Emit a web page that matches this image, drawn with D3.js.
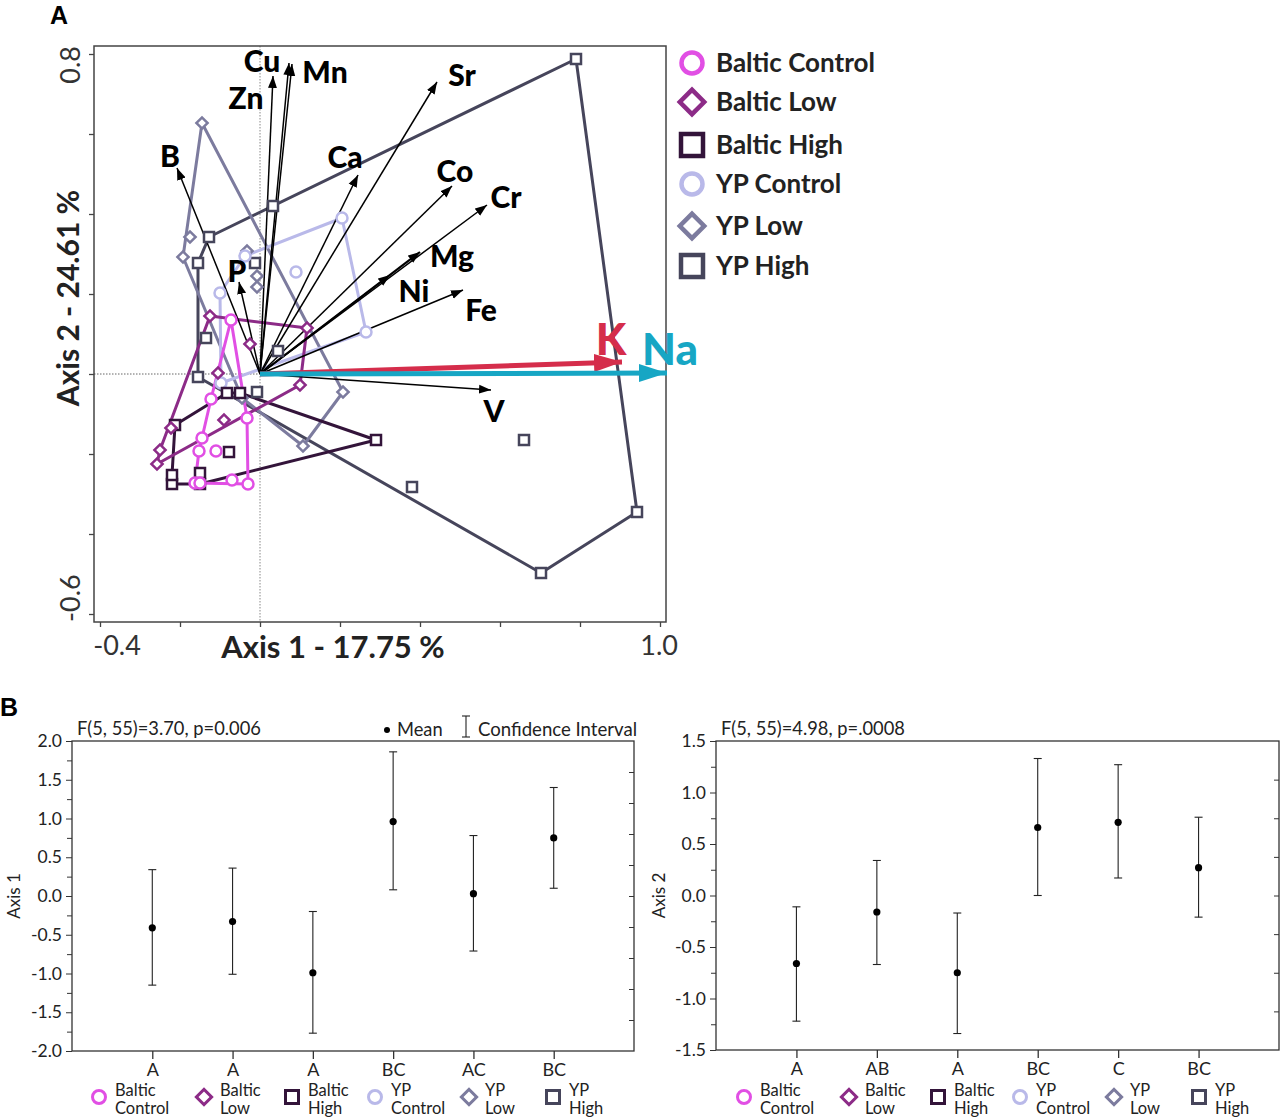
<!DOCTYPE html>
<html><head><meta charset="utf-8">
<script src="https://cdn.jsdelivr.net/npm/d3@7"></script>
<style>
body{margin:0;background:#fff;}
svg{display:block;font-family:"Lato","Open Sans",sans-serif;}
</style></head><body>
<svg id="c" width="1280" height="1118"></svg>
<script>
// ---------------- DATA ----------------
const groups = ["Baltic Control","Baltic Low","Baltic High","YP Control","YP Low","YP High"];
const groupLines = [["Baltic","Control"],["Baltic","Low"],["Baltic","High"],["YP","Control"],["YP","Low"],["YP","High"]];

// PCoA scores (Axis 1, Axis 2)
const balticControlPts = [[-0.0725,0.135],[-0.1225,-0.0625],[-0.0325,-0.11],[-0.145,-0.16],[-0.1525,-0.1925],[-0.11,-0.1925],[-0.1625,-0.2725],[-0.07,-0.265],[-0.03,-0.275],[-0.15,-0.2725]];
const balticLowPts = [[-0.125,0.145],[0.1175,0.115],[0.1,-0.0275],[-0.025,0.075],[-0.105,0.0025],[-0.09,-0.115],[-0.2225,-0.135],[-0.25,-0.19],[-0.2575,-0.225]];
const balticHighPts = [[-0.22,-0.275],[-0.15,-0.275],[-0.15,-0.2475],[-0.22,-0.2525],[-0.2125,-0.1275],[-0.0775,-0.195],[-0.0825,-0.0475],[-0.05,-0.0475],[0.29,-0.165]];
const ypControlPts = [[0.205,0.39],[0.265,0.105],[0.09,0.255],[-0.1,0.2025],[-0.0975,-0.0225],[-0.0375,0.295]];
const ypLowPts = [[-0.145,0.6275],[-0.175,0.3425],[-0.1925,0.2925],[-0.0325,0.3075],[-0.0075,0.245],[-0.0075,0.2175],[-0.045,-0.06],[0.2075,-0.045],[0.1075,-0.18]];
const ypHighPts = [[0.79,0.7875],[0.9425,-0.345],[0.7025,-0.4975],[0.38,-0.2825],[0.66,-0.165],[-0.1275,0.3425],[-0.155,0.2775],[0.0325,0.42],[-0.0125,0.2775],[-0.135,0.09],[-0.155,-0.0075],[-0.0075,-0.045],[0.045,0.0575]];
const groupPts = [balticControlPts,balticLowPts,balticHighPts,ypControlPts,ypLowPts,ypHighPts];

// biplot vectors
const vectorNames = ["B","P","Zn","Cu","Mn","Ca","Sr","Co","Cr","Mg","Ni","Fe","K","Na","V"];
const vectorAxis1 = [-0.2075,-0.0525,0.0325,0.0725,0.08,0.245,0.4425,0.48,0.5675,0.40,0.325,0.5075,0.905,1.0175,0.5775];
const vectorAxis2 = [0.515,0.23,0.745,0.7775,0.775,0.4975,0.73,0.47,0.4225,0.305,0.2475,0.21,0.03,0.0025,-0.04];

const axisATickLabels = {x:["-0.4","1.0"], y:["0.8","-0.6"]};

// Panel B
const letters1 = ["A","A","A","BC","AC","BC"];
const axis1Mean = [-0.41,-0.33,-0.99,0.96,0.03,0.75];
const axis1Lo   = [-1.15,-1.01,-1.77,0.08,-0.71,0.10];
const axis1Hi   = [0.34,0.36,-0.20,1.86,0.78,1.40];
const letters2 = ["A","AB","A","BC","C","BC"];
const axis2Mean = [-0.66,-0.16,-0.75,0.66,0.71,0.27];
const axis2Lo   = [-1.22,-0.67,-1.34,0.00,0.17,-0.21];
const axis2Hi   = [-0.11,0.34,-0.17,1.33,1.27,0.76];
const statText1 = "F(5, 55)=3.70, p=0.006";
const statText2 = "F(5, 55)=4.98, p=.0008";

// ---------------- STYLE / LAYOUT ----------------
const colors = ["#e14fe4","#8c2b87","#33143a","#b9b9e9","#7c7b9e","#46455b"];
const shapes = ["circle","diamond","square","circle","diamond","square"];
const labelOffsets = {B:[-7,-13],P:[-2,-12],Zn:[-27,21],Cu:[-27,-3],Mn:[33,7],Ca:[-13,-19],Sr:[25,-8],Co:[3,-16],Cr:[19,-9],Mg:[32,3],Ni:[24,15],Fe:[18,19],K:[-11,-24],Na:[3,-25],V:[3,20]};
const vecColors = {K:"#d52d4b",Na:"#17a6c4"};
const minus = s => s.replace("\u2212","-");

const svg = d3.select("#c");

function drawShape(g, type, sz, color, sw){
  if(type==="circle"){
    g.append("circle").attr("r",sz/2).attr("fill","#fff").attr("stroke",color).attr("stroke-width",sw);
  } else if(type==="square"){
    g.append("rect").attr("x",-sz/2).attr("y",-sz/2).attr("width",sz).attr("height",sz).attr("fill","#fff").attr("stroke",color).attr("stroke-width",sw);
  } else {
    const s = sz*0.72;
    g.append("rect").attr("x",-s/2).attr("y",-s/2).attr("width",s).attr("height",s).attr("transform","rotate(45)").attr("fill","#fff").attr("stroke",color).attr("stroke-width",sw);
  }
}

// ---------------- PANEL A ----------------
const xA = d3.scaleLinear().domain([-0.4,1.0]).range([100,660]);
const yA = d3.scaleLinear().domain([-0.6,0.8]).range([614,54]);
const boxA = {l:94,r:666,t:46,b:622};

svg.append("text").attr("x",50).attr("y",24).attr("font-size",25).attr("font-weight",700).attr("font-family","Arial, Liberation Sans, sans-serif").text("A");

const gA = svg.append("g");
// zero lines
gA.append("line").attr("x1",xA(0)).attr("x2",xA(0)).attr("y1",boxA.t).attr("y2",boxA.b).attr("stroke","#888").attr("stroke-width",1).attr("stroke-dasharray","1.5,1.5");
gA.append("line").attr("x1",boxA.l).attr("x2",boxA.r).attr("y1",yA(0)).attr("y2",yA(0)).attr("stroke","#666").attr("stroke-width",1).attr("stroke-dasharray","1.5,1.5");

// frame
gA.append("rect").attr("x",boxA.l).attr("y",boxA.t).attr("width",boxA.r-boxA.l).attr("height",boxA.b-boxA.t).attr("fill","none").attr("stroke","#444").attr("stroke-width",1.5);
// axes ticks
const axXA = d3.axisBottom(xA).tickValues(d3.range(-0.4,1.0001,0.2)).tickSize(5).tickFormat("");
gA.append("g").attr("transform",`translate(0,${boxA.b})`).call(axXA).call(g=>{g.select(".domain").remove();g.selectAll("line").attr("stroke","#444").attr("stroke-width",1.3);});
const axYA = d3.axisLeft(yA).tickValues(d3.range(-0.6,0.8001,0.2)).tickSize(5).tickFormat("");
gA.append("g").attr("transform",`translate(${boxA.l},0)`).call(axYA).call(g=>{g.select(".domain").remove();g.selectAll("line").attr("stroke","#444").attr("stroke-width",1.3);});

// tick labels
gA.append("text").attr("x",xA(-0.4)+17).attr("y",655).attr("text-anchor","middle").attr("font-size",27).attr("fill","#333").text(axisATickLabels.x[0]);
gA.append("text").attr("x",678).attr("y",655).attr("text-anchor","end").attr("font-size",27).attr("fill","#333").text(axisATickLabels.x[1]);
gA.append("text").attr("transform",`translate(80,${boxA.t}) rotate(-90)`).attr("text-anchor","end").attr("font-size",27).attr("fill","#333").text(axisATickLabels.y[0]);
gA.append("text").attr("transform",`translate(80,${boxA.b}) rotate(-90)`).attr("text-anchor","start").attr("font-size",27).attr("fill","#333").text(axisATickLabels.y[1]);
// axis titles
gA.append("text").attr("x",333).attr("y",658).attr("text-anchor","middle").attr("font-size",31).attr("font-weight",700).attr("fill","#222").text("Axis 1 - 17.75 %");
gA.append("text").attr("transform",`translate(79,298) rotate(-90)`).attr("text-anchor","middle").attr("font-size",30).attr("font-weight",700).attr("fill","#222").text("Axis 2 - 24.61 %");

// hulls
const hullOrder = [5,4,3,2,1,0];
hullOrder.forEach(i=>{
  const pts = groupPts[i].map(p=>[xA(p[0]),yA(p[1])]);
  const h = d3.polygonHull(pts);
  gA.append("path").attr("d","M"+h.map(p=>p.join(",")).join("L")+"Z")
    .attr("fill","none").attr("stroke",colors[i]).attr("stroke-width",3).attr("stroke-linejoin","round");
});

// arrows
const defs = svg.append("defs");
defs.append("marker").attr("id","ahBlack").attr("markerUnits","userSpaceOnUse").attr("viewBox","0 -5 12 10")
  .attr("refX",12).attr("refY",0).attr("markerWidth",12).attr("markerHeight",10).attr("orient","auto")
  .append("path").attr("d","M0,-4.5L12,0L0,4.5Z").attr("fill","#000");
Object.keys(vecColors).forEach(k=>{
  defs.append("marker").attr("id","ah"+k).attr("markerUnits","userSpaceOnUse").attr("viewBox","0 -10 28 20")
    .attr("refX",28).attr("refY",0).attr("markerWidth",28).attr("markerHeight",20).attr("orient","auto")
    .append("path").attr("d","M0,-9L28,0L0,9Z").attr("fill",vecColors[k]);
});
const idx = vectorNames.map((n,i)=>i);
const thick = idx.filter(i=>vecColors[vectorNames[i]]);
const thin = idx.filter(i=>!vecColors[vectorNames[i]]);
thin.concat(thick).forEach(i=>{
  const n = vectorNames[i];
  const c = vecColors[n];
  gA.append("line").attr("x1",xA(0)).attr("y1",yA(0)).attr("x2",xA(vectorAxis1[i])).attr("y2",yA(vectorAxis2[i]))
    .attr("stroke",c||"#000").attr("stroke-width",c?5:(n==="Mg"?2.2:1.5))
    .attr("marker-end",`url(#ah${c?n:"Black"})`);
});

// points
[5,4,3,2,1,0].forEach(i=>{
  groupPts[i].forEach(p=>{
    const g = gA.append("g").attr("transform",`translate(${xA(p[0])},${yA(p[1])})`);
    drawShape(g, shapes[i], shapes[i]==="circle"?11:(shapes[i]==="square"?10:11), colors[i], 2.5);
  });
});

// vector labels
vectorNames.forEach((n,i)=>{
  const o = labelOffsets[n];
  const c = vecColors[n];
  gA.append("text").attr("x",xA(vectorAxis1[i])+o[0]).attr("y",yA(vectorAxis2[i])+o[1])
    .attr("text-anchor","middle").attr("dominant-baseline","central")
    .attr("font-size",c?44:30).attr("font-weight",900).attr("fill",c||"#000").text(n);
});

// legend A
const legAY = [63,102,145,184,226,266];
groups.forEach((gname,i)=>{
  const g = svg.append("g").attr("transform",`translate(692,${legAY[i]})`);
  drawShape(g, shapes[i], shapes[i]==="circle"?21:(shapes[i]==="square"?22:24), colors[i], 4.5);
  svg.append("text").attr("x",716).attr("y",legAY[i]+9).attr("font-size",26).attr("font-weight",700).attr("fill","#222").text(gname);
});

// ---------------- PANEL B ----------------
svg.append("text").attr("x",0).attr("y",716).attr("font-size",25).attr("font-weight",700).attr("font-family","Arial, Liberation Sans, sans-serif").text("B");

function panelB(opt){
  const g = svg.append("g");
  const x = d3.scaleLinear().domain([0,7]).range([opt.l,opt.r]);
  const y = d3.scaleLinear().domain(opt.domain).range([opt.b,opt.t]);
  g.append("rect").attr("x",opt.l).attr("y",opt.t).attr("width",opt.r-opt.l).attr("height",opt.b-opt.t).attr("fill","none").attr("stroke","#333").attr("stroke-width",1.3);
  // left major
  g.append("g").attr("transform",`translate(${opt.l},0)`)
    .call(d3.axisLeft(y).tickValues(opt.major).tickSize(6).tickFormat(d=>minus(d3.format(".1f")(d))))
    .call(s=>{s.select(".domain").remove();s.selectAll("line").attr("stroke","#333");s.selectAll("text").attr("font-size",17.5).attr("fill","#222").attr("font-family","Lato, sans-serif").attr("dx",-1);});
  g.append("g").attr("transform",`translate(${opt.l},0)`)
    .call(d3.axisLeft(y).tickValues(opt.minor).tickSize(5).tickFormat(""))
    .call(s=>{s.select(".domain").remove();s.selectAll("line").attr("stroke","#333");});
  // right inner ticks
  g.append("g").attr("transform",`translate(${opt.r},0)`)
    .call(d3.axisRight(y).tickValues(opt.right).tickSize(-5).tickFormat(""))
    .call(s=>{s.select(".domain").remove();s.selectAll("line").attr("stroke","#333");});
  // bottom
  g.append("g").attr("transform",`translate(0,${opt.b})`)
    .call(d3.axisBottom(x).tickValues([1,2,3,4,5,6]).tickSize(8).tickPadding(4).tickFormat((d,i)=>opt.letters[i]))
    .call(s=>{s.select(".domain").remove();s.selectAll("line").attr("stroke","#333").attr("stroke-width",1.3);s.selectAll("text").attr("font-size",18).attr("fill","#222").attr("font-family","Lato, sans-serif");});
  // error bars
  opt.mean.forEach((m,i)=>{
    const cx = x(i+1);
    g.append("line").attr("x1",cx).attr("x2",cx).attr("y1",y(opt.lo[i])).attr("y2",y(opt.hi[i])).attr("stroke","#222").attr("stroke-width",1.1);
    [opt.lo[i],opt.hi[i]].forEach(v=>g.append("line").attr("x1",cx-4).attr("x2",cx+4).attr("y1",y(v)).attr("y2",y(v)).attr("stroke","#222").attr("stroke-width",1.1));
    g.append("circle").attr("cx",cx).attr("cy",y(m)).attr("r",3.6).attr("fill","#000");
  });
  // stat text
  g.append("text").attr("x",opt.l+5).attr("y",opt.t-6).attr("font-size",18.3).attr("fill","#222").text(opt.stat);
  // y title
  g.append("text").attr("transform",`translate(${opt.ytx},${y(0)}) rotate(-90)`).attr("text-anchor","middle").attr("font-size",17).attr("fill","#222").text(opt.ytitle);
  // legend
  groupLines.forEach((ln,i)=>{
    const mx = opt.legX[i];
    const mg = g.append("g").attr("transform",`translate(${mx},1097)`);
    drawShape(mg, shapes[i], shapes[i]==="circle"?13:(shapes[i]==="square"?13:15), colors[i], 3);
    g.append("text").attr("font-size",16.5).attr("fill","#222").attr("x",mx+16).attr("y",1096).text(ln[0]);
    g.append("text").attr("font-size",16.5).attr("fill","#222").attr("x",mx+16).attr("y",1114).text(ln[1]);
  });
  return {x,y};
}

panelB({l:72,r:634,t:741,b:1051,domain:[-2,2],major:d3.range(-2,2.001,0.5),minor:d3.range(-1.75,2,0.5),
  right:[-1.6,-1.2,-0.8,-0.4,0,0.4,0.8,1.2,1.6],letters:letters1,mean:axis1Mean,lo:axis1Lo,hi:axis1Hi,
  stat:statText1,ytitle:"Axis 1",ytx:20,legX:[99,204,292,375,469,553]});
panelB({l:716,r:1279,t:741,b:1050,domain:[-1.5,1.5],major:d3.range(-1.5,1.501,0.5),minor:d3.range(-1.25,1.5,0.5),
  right:[-1.125,-0.75,-0.375,0,0.375,0.75,1.125],letters:letters2,mean:axis2Mean,lo:axis2Lo,hi:axis2Hi,
  stat:statText2,ytitle:"Axis 2",ytx:665,legX:[744,849,938,1020,1114,1199]});

// Mean / CI legend
svg.append("circle").attr("cx",387).attr("cy",730).attr("r",3).attr("fill","#000");
svg.append("text").attr("x",397).attr("y",736).attr("font-size",18.3).attr("fill","#222").text("Mean");
svg.append("line").attr("x1",466).attr("x2",466).attr("y1",716).attr("y2",737).attr("stroke","#222").attr("stroke-width",1.1);
svg.append("line").attr("x1",462).attr("x2",470).attr("y1",716).attr("y2",716).attr("stroke","#222").attr("stroke-width",1.1);
svg.append("line").attr("x1",462).attr("x2",470).attr("y1",737).attr("y2",737).attr("stroke","#222").attr("stroke-width",1.1);
svg.append("text").attr("x",478).attr("y",736).attr("font-size",18.6).attr("fill","#222").text("Confidence Interval");
</script></body></html>
